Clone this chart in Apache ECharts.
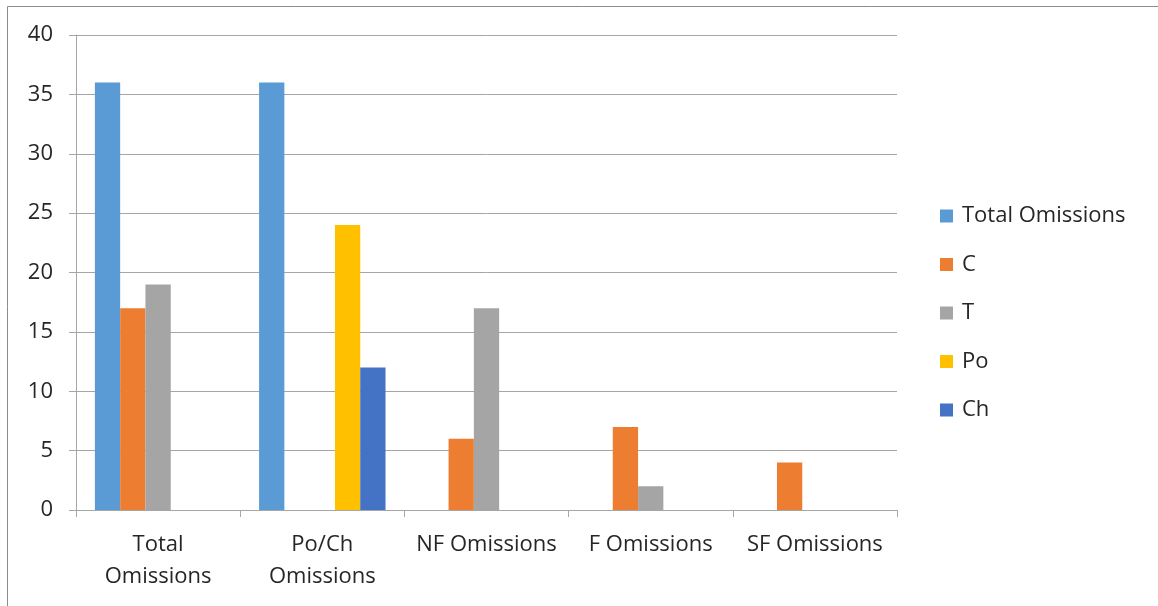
<!DOCTYPE html>
<html><head><meta charset="utf-8">
<script src="https://cdn.jsdelivr.net/npm/echarts@6/dist/echarts.min.js"></script>
<style>html,body{margin:0;padding:0;background:#fff}#c{width:1158px;height:606px}</style>
</head><body><div id="c"></div>
<script>
const categories = ['Total\nOmissions', 'Po/Ch\nOmissions', 'NF Omissions', 'F Omissions', 'SF Omissions'];
const seriesNames = ['Total Omissions', 'C', 'T', 'Po', 'Ch'];
const totalOmissions = [36, 36, 0, 0, 0];
const cVals = [17, 0, 6, 7, 4];
const tVals = [19, 0, 17, 2, 0];
const poVals = [0, 24, 0, 0, 0];
const chVals = [0, 12, 0, 0, 0];
const colors = ['#5b9bd5', '#ed7d31', '#a5a5a5', '#ffc000', '#4472c4'];
const allVals = [totalOmissions, cVals, tVals, poVals, chVals];

const font = '"Open Sans", sans-serif';
const chart = echarts.init(document.getElementById('c'), null, {renderer: 'canvas'});
chart.setOption({
  animation: false,
  backgroundColor: '#fff',
  color: colors,
  graphic: [
    {type: 'line', shape: {x1: 7.5, y1: 6.5, x2: 1158, y2: 6.5}, style: {stroke: '#8c8c8c', lineWidth: 1}},
    {type: 'line', shape: {x1: 7.5, y1: 6.5, x2: 7.5, y2: 606}, style: {stroke: '#8c8c8c', lineWidth: 1}}
  ],
  grid: {left: 76, right: 261, top: 35, bottom: 96, containLabel: false},
  legend: {
    orient: 'vertical', left: 935, top: 200, itemWidth: 13, itemHeight: 13, itemGap: 26.5,
    icon: 'rect',
    textStyle: {fontFamily: font, fontSize: 22, color: '#262626', padding: [0, 0, 0, 4]},
    data: seriesNames
  },
  xAxis: {
    type: 'category', data: categories,
    axisLine: {lineStyle: {color: '#a6a6a6', width: 1}},
    axisTick: {show: true, length: 7, alignWithLabel: false, lineStyle: {color: '#a6a6a6'}},
    axisLabel: {fontFamily: font, fontSize: 22, color: '#262626', margin: 19, lineHeight: 32, interval: 0}
  },
  yAxis: {
    type: 'value', min: 0, max: 40, interval: 5,
    axisLine: {show: true, lineStyle: {color: '#a6a6a6', width: 1}},
    axisTick: {show: true, length: 7, lineStyle: {color: '#a6a6a6'}},
    splitLine: {lineStyle: {color: '#a6a6a6', width: 1}},
    axisLabel: {fontFamily: font, fontSize: 22, color: '#262626', margin: 23}
  },
  series: seriesNames.map((n, i) => ({
    name: n, type: 'bar', data: allVals[i], barGap: '0%', barCategoryGap: '23%',
    itemStyle: {color: colors[i]}
  }))
});
</script></body></html>
